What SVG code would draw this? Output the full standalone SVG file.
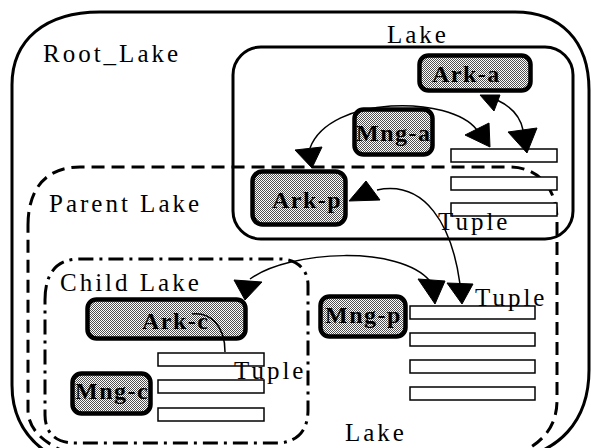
<svg xmlns="http://www.w3.org/2000/svg" width="591" height="448" viewBox="0 0 591 448">
<defs>
<pattern id="halftone" width="2" height="2" patternUnits="userSpaceOnUse">
<rect width="2" height="2" fill="#ffffff"/>
<rect x="0" y="0" width="1" height="1" fill="#505050"/>
<rect x="1" y="1" width="1" height="1" fill="#505050"/>
</pattern>
</defs>
<style>
.lbl{font-family:"Liberation Serif","Times New Roman",serif;font-size:25px;letter-spacing:3px;fill:#000}
.ntxt{font-family:"Liberation Serif","Times New Roman",serif;font-size:24px;font-weight:bold;letter-spacing:1.5px;fill:#000}
.node{fill:url(#halftone);stroke:#000;stroke-width:4.5}
.tuple{fill:#fff;stroke:#000;stroke-width:1.5}
.wire{fill:none;stroke:#000;stroke-width:1.5}
.head{fill:#000;stroke:#000;stroke-width:1;stroke-linejoin:miter}
.lakeline{fill:none;stroke:#000;stroke-width:3}
</style>
<rect width="591" height="448" fill="#fff"/>

<g id="root-lake">
<path class="lakeline" d="M 12 85 C 12 40 45 12 100 12 L 515 12 C 560 12 589 40 589 90 L 589 370 C 589 420 560 455 505 460 L 60 460 C 30 445 12 420 12 385 Z"/>
<text class="lbl" x="43" y="62">Root_Lake</text>
</g>

<g id="lake-a">
<rect class="lakeline" x="233" y="47" width="340" height="192" rx="28"/>
<text class="lbl" x="387" y="43">Lake</text>
</g>

<g id="parent-lake">
<path class="lakeline" stroke-dasharray="13 7" d="M 28 225 C 28 190 45 167 80 167 L 510 167 C 535 167 557 185 557 220 L 557 400 C 557 425 545 442 515 456 L 75 456 C 45 445 28 430 28 410 Z"/>
<text class="lbl" x="49" y="212">Parent Lake</text>
<text class="lbl" x="345" y="441">Lake</text>
</g>

<g id="child-lake">
<path class="lakeline" stroke-width="2.8" stroke-dasharray="15 6 3 6" d="M 45 300 C 45 275 55 259 80 259 L 280 259 C 295 259 308 268 308 285 L 308 410 C 308 428 300 441 280 443 L 75 443 C 55 443 45 432 45 415 Z"/>
<text class="lbl" x="60" y="291">Child Lake</text>
</g>

<g id="tuples-a">
<rect class="tuple" x="451" y="149" width="106" height="13"/>
<rect class="tuple" x="451" y="177" width="106" height="13"/>
<rect class="tuple" x="451" y="203" width="106" height="13"/>
<text class="lbl" x="438" y="230">Tuple</text>
</g>

<g id="tuples-p">
<rect class="tuple" x="410" y="306" width="125" height="13"/>
<rect class="tuple" x="410" y="333" width="125" height="13"/>
<rect class="tuple" x="410" y="360" width="125" height="13"/>
<rect class="tuple" x="410" y="387" width="125" height="13"/>
<text class="lbl" x="475" y="306">Tuple</text>
</g>

<g id="tuples-c">
<rect class="tuple" x="158" y="353" width="106" height="13"/>
<rect class="tuple" x="158" y="380" width="106" height="13"/>
<rect class="tuple" x="158" y="408" width="106" height="13"/>
<text class="lbl" x="234" y="379">Tuple</text>
</g>

<g id="ark-a">
<rect class="node" x="419.5" y="55.5" width="111" height="35" rx="9"/>
<text class="ntxt" x="432" y="82">Ark-a</text>
</g>
<g id="mng-a">
<rect class="node" x="354.5" y="109.5" width="78" height="45" rx="9"/>
<text class="ntxt" x="356" y="141">Mng-a</text>
</g>
<g id="ark-p">
<rect class="node" x="252.5" y="171.5" width="93" height="53" rx="10"/>
<text class="ntxt" x="272" y="208">Ark-p</text>
</g>
<g id="ark-c">
<rect class="node" x="87.5" y="299.5" width="158" height="39" rx="9"/>
<text class="ntxt" x="142" y="329">Ark-c</text>
</g>
<g id="mng-c">
<rect class="node" x="72.5" y="373.5" width="78" height="40" rx="9"/>
<text class="ntxt" x="75" y="399">Mng-c</text>
</g>
<g id="mng-p">
<rect class="node" x="320.5" y="296.5" width="85" height="40" rx="9"/>
<text class="ntxt" x="325" y="323">Mng-p</text>
</g>

<g id="connectors">
<polygon class="head" points="480,95 500,95 494,111"/>
<path class="wire" d="M 497 100 C 510 106 520 115 523 130"/>
<polygon class="head" points="508,132 537,128 527,153"/>

<path class="wire" d="M 477 130 C 450 95 330 95 310 148"/>
<polygon class="head" points="465,135 489,123 490,147"/>
<polygon class="head" points="295,150 322,147 312,168"/>

<polygon class="head" points="349,201 366,181 380,200"/>
<path class="wire" d="M 377 190 C 425 180 452 225 460 284"/>
<polygon class="head" points="447,283 473,284 462,304"/>

<path class="wire" d="M 250 279 C 290 250 400 245 430 281"/>
<polygon class="head" points="234,280 262,282 245,300"/>
<polygon class="head" points="418,279 445,281 435,304"/>

<path class="wire" d="M 192 314 C 210 312 225 325 225 352"/>
</g>
</svg>
